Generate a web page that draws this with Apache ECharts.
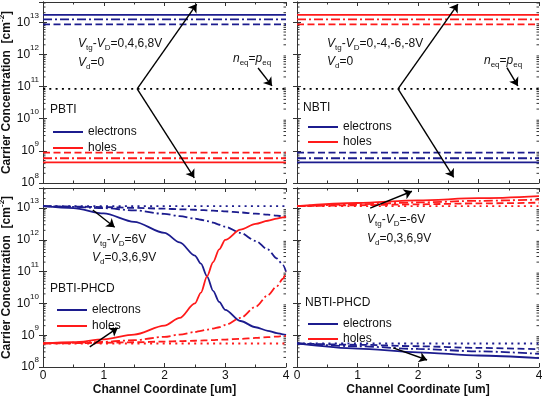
<!DOCTYPE html>
<html>
<head>
<meta charset="utf-8">
<script src="https://cdn.jsdelivr.net/npm/echarts@6/dist/echarts.min.js"></script>
<style>
html, body { margin: 0; padding: 0; background: #fff; }
#chart { width: 542px; height: 398px; }
</style>
</head>
<body>
<div id="chart"></div>
<script>
// channel coordinate [um]
var xFlat = [0, 4];
var xPhcdP = [0, 0.5, 1, 1.5, 2, 2.25, 2.5, 2.6, 2.7, 2.8, 2.9, 3, 3.25, 3.5, 3.7, 3.85, 3.95, 4];
var xPhcdN = [0, 1, 2, 3, 4];

// BTI, Vd=0 : |Vtg-VD| = 4 (dashed), 6 (dash-dot), 8 (solid)
var btiMajority = [8.7e12, 1.24e13, 1.7e13];
var btiMinority = [8.8e8, 5.9e8, 4.4e8];
var btiEq = 8.5e10;   // Vtg-VD = 0, n_eq = p_eq

// PBTI-PHCD, Vtg-VD=6V, Vd = 0 (dotted), 3 (dashed), 6 (dash-dot), 9 (solid)
var pElecVd0 = [1.15e13, 1.15e13];
var pHoleVd0 = [5.5e8, 5.5e8];
var pElecVd3 = [1.15e13, 1.12e13, 1.08e13, 1.02e13, 9.6e12, 9.2e12, 8.9e12, 8.7e12, 8.5e12, 8.3e12, 8.1e12, 7.9e12, 7.3e12, 6.7e12, 6.2e12, 5.8e12, 5.5e12, 5.3e12];
var pHoleVd3 = [5.5e8, 5.6e8, 5.8e8, 6.0e8, 6.3e8, 6.5e8, 6.7e8, 6.8e8, 6.9e8, 7.0e8, 7.2e8, 7.3e8, 7.7e8, 8.2e8, 8.7e8, 9.1e8, 9.4e8, 9.5e8];
var pElecVd6 = [1.15e13, 1.1e13, 1.0e13, 8.5e12, 6.6e12, 5.6e12, 4.7e12, 4.3e12, 3.9e12, 3.5e12, 3.0e12, 2.6e12, 1.66e12, 9.3e11, 5.0e11, 2.6e11, 1.6e11, 1.0e11];
var pHoleVd6 = [5.5e8, 5.8e8, 6.2e8, 7.0e8, 8.9e8, 1.05e9, 1.26e9, 1.38e9, 1.51e9, 1.62e9, 1.78e9, 2.1e9, 3.5e9, 7.9e9, 1.8e10, 3.5e10, 6.0e10, 1.0e11];
var pElecVd9 = [1.15e13, 1.0e13, 6.8e12, 3.7e12, 1.66e12, 8.3e11, 3.2e11, 1.78e11, 7.1e10, 2.5e10, 1.12e10, 6.3e9, 2.8e9, 1.78e9, 1.38e9, 1.17e9, 1.07e9, 1.02e9];
var pHoleVd9 = [5.5e8, 6.0e8, 7.4e8, 1.05e9, 2.0e9, 3.5e9, 1.0e10, 2.2e10, 7.1e10, 2.0e11, 5.0e11, 1.0e12, 2.1e12, 3.2e12, 4.0e12, 4.7e12, 5.1e12, 5.4e12];

// NBTI-PHCD, Vtg-VD=-6V, Vd = 0,3,6,9V
var nHoleVd0 = [1.15e13, 1.15e13, 1.15e13, 1.15e13, 1.15e13];
var nHoleVd3 = [1.15e13, 1.23e13, 1.32e13, 1.41e13, 1.48e13];
var nHoleVd6 = [1.15e13, 1.32e13, 1.51e13, 1.7e13, 1.86e13];
var nHoleVd9 = [1.15e13, 1.45e13, 1.75e13, 2.05e13, 2.4e13];
var nElecVd0 = [5.5e8, 5.5e8, 5.5e8, 5.5e8, 5.5e8];
var nElecVd3 = [5.5e8, 5.0e8, 4.5e8, 4.0e8, 3.6e8];
var nElecVd6 = [5.5e8, 4.5e8, 3.7e8, 3.1e8, 2.6e8];
var nElecVd9 = [5.5e8, 3.8e8, 2.9e8, 2.3e8, 1.9e8];

// axis ticks
var xTicks = [0, 1, 2, 3, 4];
var yMin = 1e8, yMax = 4.3e13;

// annotation arrows [from, to] per panel
var arrowsTL = [[[1.55, 8.5e10], [2.53, 3.7e13]], [[1.55, 8.5e10], [2.49, 1.45e8]], [[3.54, 3.8e11], [3.77, 1.05e11]]];
var arrowsTR = [[[1.67, 8.5e10], [2.66, 3.7e13]], [[1.67, 8.5e10], [2.59, 1.5e8]], [[3.47, 3.9e11], [3.65, 1.05e11]]];
var arrowsBL = [[[0.82, 8.7e12], [1.18, 2.5e12]], [[0.77, 4.3e8], [1.23, 1.7e9]]];
var arrowsBR = [[[1.21, 1.0e13], [1.9, 3.4e13]], [[1.59, 4.0e8], [2.15, 1.66e8]]];

var BLUE = '#1c1c8e', RED = '#ff1a1a';
var FONT = 'Liberation Sans, Arial, sans-serif';
var DASH = [7, 3.5], DASHDOT = [9, 3, 2, 3], DOT = [2, 4.3];

var myChart = echarts.init(document.getElementById('chart'));

var grids = [
    {left: 43, top: 2, width: 243, height: 181},
    {left: 297, top: 2, width: 242, height: 181},
    {left: 43, top: 188, width: 243, height: 179},
    {left: 297, top: 188, width: 242, height: 179}
];

function supLabel(v) {
    var e = Math.log(v) / Math.LN10;
    var r = Math.round(e);
    if (Math.abs(e - r) > 1e-6) return '';
    return '10{s|' + r + '}';
}

var xAxes = [], yAxes = [];
for (var g = 0; g < 4; g++) {
    var bottom = g >= 2, left = g % 2 === 0;
    var axLine = {show: true, lineStyle: {color: '#333', width: 1}};
    xAxes.push({
        type: 'value', gridIndex: g, min: xTicks[0], max: xTicks[xTicks.length - 1], interval: 1,
        axisLine: axLine,
        axisTick: {inside: true, length: 4, lineStyle: {color: '#333'}},
        minorTick: {show: true, splitNumber: 2, length: 2.5, lineStyle: {color: '#333'}},
        splitLine: {show: false},
        axisLabel: {show: bottom, margin: 3, fontSize: 12, color: '#111', fontFamily: FONT},
        name: bottom ? 'Channel Coordinate [um]' : '',
        nameLocation: 'middle', nameGap: 17,
        nameTextStyle: {fontSize: 12, fontWeight: 'bold', color: '#111', fontFamily: FONT}
    });
    xAxes.push({
        type: 'value', gridIndex: g, position: 'top', min: 0, max: 4, interval: 1,
        axisLine: axLine,
        axisTick: {inside: true, length: 4, lineStyle: {color: '#333'}},
        minorTick: {show: true, splitNumber: 2, length: 2.5, lineStyle: {color: '#333'}},
        splitLine: {show: false}, axisLabel: {show: false}
    });
    yAxes.push({
        type: 'log', logBase: 10, gridIndex: g, min: yMin, max: yMax,
        axisLine: axLine,
        axisTick: {inside: true, length: 4, lineStyle: {color: '#333'}},
        splitLine: {show: false},
        axisLabel: {
            show: left, margin: 4, fontSize: 12, color: '#111', fontFamily: FONT,
            formatter: supLabel,
            rich: {s: {fontSize: 8, fontFamily: FONT, color: '#111', padding: [0, 0, 14, 0]}}
        },
        name: left ? 'Carrier Concentration  [cm{s|-2}]' : '',
        nameLocation: 'middle', nameRotate: 90, nameGap: 27,
        nameTextStyle: {
            fontSize: 12, fontWeight: 'bold', color: '#111', fontFamily: FONT,
            rich: {s: {fontSize: 8, fontWeight: 'bold', fontFamily: FONT, color: '#111', padding: [0, 0, 10, 0]}}
        }
    });
    yAxes.push({
        type: 'log', logBase: 10, gridIndex: g, position: 'right', min: yMin, max: yMax,
        axisLine: axLine,
        axisTick: {inside: true, length: 4, lineStyle: {color: '#333'}},
        splitLine: {show: false}, axisLabel: {show: false}
    });
}

function mk(g, xs, ys, color, dash, name) {
    return {
        type: 'line', name: name, xAxisIndex: 2 * g, yAxisIndex: 2 * g,
        data: xs.map(function (x, i) { return [x, ys[i]]; }),
        symbol: 'none', smooth: xs.length > 2 ? 0.3 : false, smoothMonotone: 'x',
        lineStyle: {color: color, width: 1.8, type: dash},
        itemStyle: {color: color}, silent: true, z: 3
    };
}
function flat(v) { return [v, v]; }

function arrows(g, list) {
    return {
        type: 'lines', coordinateSystem: 'cartesian2d', xAxisIndex: 2 * g, yAxisIndex: 2 * g,
        symbol: ['none', 'arrow'], symbolSize: 8, silent: true, z: 5,
        lineStyle: {color: '#000', width: 1.4, opacity: 1, curveness: 0},
        data: list.map(function (c) { return {coords: c}; })
    };
}

// minor ticks of the log axes
var minorVals = [];
for (var n = 8; n <= 13; n++) {
    for (var k = 2; k <= 9; k++) {
        if (k * Math.pow(10, n) < yMax) minorVals.push(k * Math.pow(10, n));
    }
}
function minorTicks(g) {
    return {
        type: 'custom', xAxisIndex: 2 * g, yAxisIndex: 2 * g, silent: true, clip: false,
        data: minorVals.map(function (v) { return [0, v]; }),
        renderItem: function (params, api) {
            var a = api.coord([0, api.value(1)]);
            var b = api.coord([4, api.value(1)]);
            var st = {stroke: '#333', lineWidth: 1};
            return {type: 'group', children: [
                {type: 'line', shape: {x1: a[0], y1: a[1], x2: a[0] + 2.5, y2: a[1]}, style: st},
                {type: 'line', shape: {x1: b[0] - 2.5, y1: b[1], x2: b[0], y2: b[1]}, style: st}
            ]};
        }
    };
}

var series = [];
// legend icons come from the first series of each name: put solid first
series.push(mk(0, xFlat, flat(btiMajority[2]), BLUE, 'solid', 'electrons'));
series.push(mk(0, xFlat, flat(btiMinority[2]), RED, 'solid', 'holes'));
series.push(mk(0, xFlat, flat(btiMajority[1]), BLUE, DASHDOT, 'electrons'));
series.push(mk(0, xFlat, flat(btiMajority[0]), BLUE, DASH, 'electrons'));
series.push(mk(0, xFlat, flat(btiMinority[1]), RED, DASHDOT, 'holes'));
series.push(mk(0, xFlat, flat(btiMinority[0]), RED, DASH, 'holes'));
series.push(mk(0, xFlat, flat(btiEq), '#000', DOT, 'eq'));

series.push(mk(1, xFlat, flat(btiMajority[2]), RED, 'solid', 'holes'));
series.push(mk(1, xFlat, flat(btiMajority[1]), RED, DASHDOT, 'holes'));
series.push(mk(1, xFlat, flat(btiMajority[0]), RED, DASH, 'holes'));
series.push(mk(1, xFlat, flat(btiMinority[2]), BLUE, 'solid', 'electrons'));
series.push(mk(1, xFlat, flat(btiMinority[1]), BLUE, DASHDOT, 'electrons'));
series.push(mk(1, xFlat, flat(btiMinority[0]), BLUE, DASH, 'electrons'));
series.push(mk(1, xFlat, flat(btiEq), '#000', DOT, 'eq'));

series.push(mk(2, xFlat, pElecVd0, BLUE, DOT, 'electrons'));
series.push(mk(2, xPhcdP, pElecVd3, BLUE, DASH, 'electrons'));
series.push(mk(2, xPhcdP, pElecVd6, BLUE, DASHDOT, 'electrons'));
series.push(mk(2, xPhcdP, pElecVd9, BLUE, 'solid', 'electrons'));
series.push(mk(2, xFlat, pHoleVd0, RED, DOT, 'holes'));
series.push(mk(2, xPhcdP, pHoleVd3, RED, DASH, 'holes'));
series.push(mk(2, xPhcdP, pHoleVd6, RED, DASHDOT, 'holes'));
series.push(mk(2, xPhcdP, pHoleVd9, RED, 'solid', 'holes'));

series.push(mk(3, xPhcdN, nHoleVd0, RED, DOT, 'holes'));
series.push(mk(3, xPhcdN, nHoleVd3, RED, DASH, 'holes'));
series.push(mk(3, xPhcdN, nHoleVd6, RED, DASHDOT, 'holes'));
series.push(mk(3, xPhcdN, nHoleVd9, RED, 'solid', 'holes'));
series.push(mk(3, xPhcdN, nElecVd0, BLUE, DOT, 'electrons'));
series.push(mk(3, xPhcdN, nElecVd3, BLUE, DASH, 'electrons'));
series.push(mk(3, xPhcdN, nElecVd6, BLUE, DASHDOT, 'electrons'));
series.push(mk(3, xPhcdN, nElecVd9, BLUE, 'solid', 'electrons'));

series.push(arrows(0, arrowsTL), arrows(1, arrowsTR), arrows(2, arrowsBL), arrows(3, arrowsBR));
for (g = 0; g < 4; g++) series.push(minorTicks(g));

function legend(x, y, gap) {
    return {
        left: x, top: y, orient: 'vertical', itemWidth: 30, itemHeight: 12, itemGap: gap,
        selectedMode: false, data: ['electrons', 'holes'],
        icon: 'path://M0,5H30V7H0Z', symbolKeepAspect: true,
        itemStyle: {borderWidth: 0},
        textStyle: {fontSize: 12, color: '#111', fontFamily: FONT, padding: [0, 0, 0, 0]}
    };
}

var rich = {
    i: {fontStyle: 'italic', fontSize: 12, fontFamily: FONT, color: '#111'},
    s: {fontSize: 8, fontFamily: FONT, color: '#111', padding: [7, 0, 0, 0]}
};
function txt(x, y, text) {
    return {
        type: 'text', x: x, y: y, silent: true,
        style: {text: text, rich: rich, fontSize: 12, fontFamily: FONT, fill: '#111', verticalAlign: 'middle'}
    };
}

option = {
    animation: false,
    grid: grids.map(function (g) { g.outerBoundsMode = 'none'; g.containLabel = false; return g; }),
    xAxis: xAxes,
    yAxis: yAxes,
    legend: [legend(48, 121, 4), legend(303, 116, 3), legend(52, 299, 4), legend(303, 313, 3)],
    series: series,
    graphic: [
        txt(78, 44, '{i|V}{s|tg}-{i|V}{s|D}=0,4,6,8V'),
        txt(78, 63, '{i|V}{s|d}=0'),
        txt(233, 59, '{i|n}{s|eq}={i|p}{s|eq}'),
        txt(50, 110, 'PBTI'),
        txt(327, 44, '{i|V}{s|tg}-{i|V}{s|D}=0,-4,-6,-8V'),
        txt(327, 62, '{i|V}{s|d}=0'),
        txt(484, 61, '{i|n}{s|eq}={i|p}{s|eq}'),
        txt(303, 108, 'NBTI'),
        txt(92, 240, '{i|V}{s|tg}-{i|V}{s|D}=6V'),
        txt(92, 258, '{i|V}{s|d}=0,3,6,9V'),
        txt(50, 289, 'PBTI-PHCD'),
        txt(367, 220, '{i|V}{s|tg}-{i|V}{s|D}=-6V'),
        txt(367, 239, '{i|V}{s|d}=0,3,6,9V'),
        txt(305, 303, 'NBTI-PHCD')
    ]
};
myChart.setOption(option);
</script>
</body>
</html>
